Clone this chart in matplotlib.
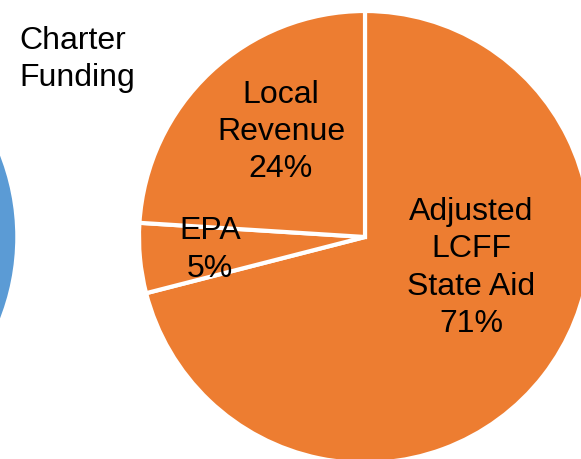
import matplotlib
matplotlib.use("Agg")
import matplotlib.pyplot as plt

plt.rcParams['font.family'] = ['Liberation Sans', 'DejaVu Sans']

# charter funding split
labels = ["Adjusted\nLCFF\nState Aid", "EPA", "Local\nRevenue"]
shares = [71, 5, 24]
# neighbouring chart, only its edge is visible
other_shares = [100]

W, H = 581, 460
fig = plt.figure(figsize=(W / 100, H / 100), dpi=100)
ax = fig.add_axes([0, 0, 1, 1])

R = 226
cy = H - 238

ax.pie(other_shares, colors=["#5B9BD5"], center=(-209, cy), radius=R,
       startangle=90, counterclock=False, frame=True,
       wedgeprops=dict(edgecolor='white', linewidth=2.5))
ax.pie(shares, colors=["#ED7D31"] * 3, center=(365, cy), radius=R,
       startangle=90, counterclock=False, frame=True,
       wedgeprops=dict(edgecolor='white', linewidth=3))
ax.set_xlim(0, W)
ax.set_ylim(0, H)
ax.set_aspect('equal')
ax.axis('off')

label_pos = [(471, 268), (210, 250), (281, 132)]
for lab, s, (x, y) in zip(labels, shares, label_pos):
    ax.text(x, H - y, f"{lab}\n{s}%", ha='center', va='center',
            fontsize=23, color='black', linespacing=1.32)

ax.text(19, H - 26, "Charter\nFunding", ha='left', va='top',
        fontsize=23, color='black', linespacing=1.32)

fig.savefig("out.png", dpi=100)
